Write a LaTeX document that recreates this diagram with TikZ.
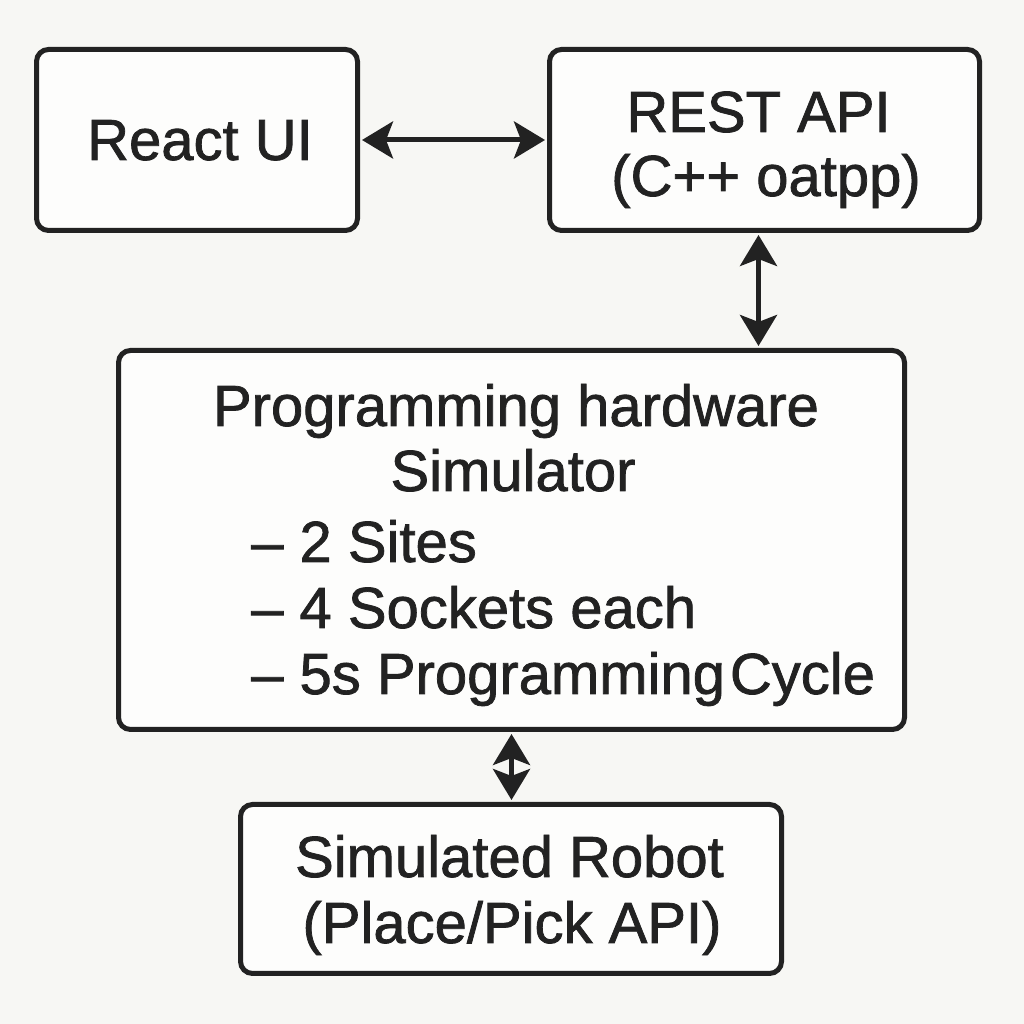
\documentclass[tikz,border=0pt]{standalone}
\usepackage{fontspec}
\setmainfont{Liberation Sans}
\newfontfamily\boxfont{Liberation Sans}[FakeBold=1.3]
\usetikzlibrary{calc}
\usetikzlibrary{arrows.meta}

\definecolor{paper}{HTML}{F7F7F4}
\definecolor{boxfill}{HTML}{FDFDFC}
\definecolor{ink}{HTML}{222222}

\begin{document}
\begin{tikzpicture}[x=1pt,y=1pt,>={Stealth[length=31pt,width=37pt,inset=7pt]}]
\tikzset{block/.style={draw=ink,line width=5pt,fill=boxfill,rounded corners=12pt,inner sep=0pt},
  boxtext/.style={anchor=base,inner sep=0pt,text=ink,font=\boxfont\fontsize{58}{65}\selectfont},
  link/.style={<->,line width=5pt,draw=ink,shorten <=2pt,shorten >=2pt}}
\fill[paper] (0,0) rectangle (1024,1024);
\useasboundingbox (0,0) rectangle (1024,1024);

% boxes
\node[block,minimum width=321pt,minimum height=181pt] (react) at (197,884) {};
\node[block,minimum width=430pt,minimum height=181pt] (rest) at (764.5,884) {};
\node[block,minimum width=786pt,minimum height=379pt] (sim) at (511.5,484) {};
\node[block,minimum width=541pt,minimum height=169pt] (robot) at (511,135) {};

% texts
\node[boxtext] (reacttxt) at (200,864) {React UI};
\node[boxtext] (resttxt1) at (758.5,892) {REST API};
\node[boxtext] (resttxt2) at (766,828) {(C++ oatpp)};
\node[boxtext] (simtxt1) at (516,598) {Programming hardware};
\node[boxtext] (simtxt2) at (513,533) {Simulator};
\node[boxtext,anchor=base west] (sites) at (251,462) {– 2 Sites};
\node[boxtext,anchor=base west] (sockets) at (251,396) {– 4 Sockets each};
\node[boxtext,anchor=base west] (cycle) at (251,330) {– 5s Programming\hspace{5pt}Cycle};
\node[boxtext] (robottxt1) at (509.5,147) {Simulated Robot};
\node[boxtext] (robottxt2) at (512,81) {(Place/Pick API)};

% links
\draw[link] (react.east) -- (rest.west);
\draw[link] ([xshift=-6pt]rest.south) -- ([xshift=-6pt]rest.south |- sim.north);
\draw[link] (sim.south) -- (sim.south |- robot.north);

\end{tikzpicture}
\end{document}
